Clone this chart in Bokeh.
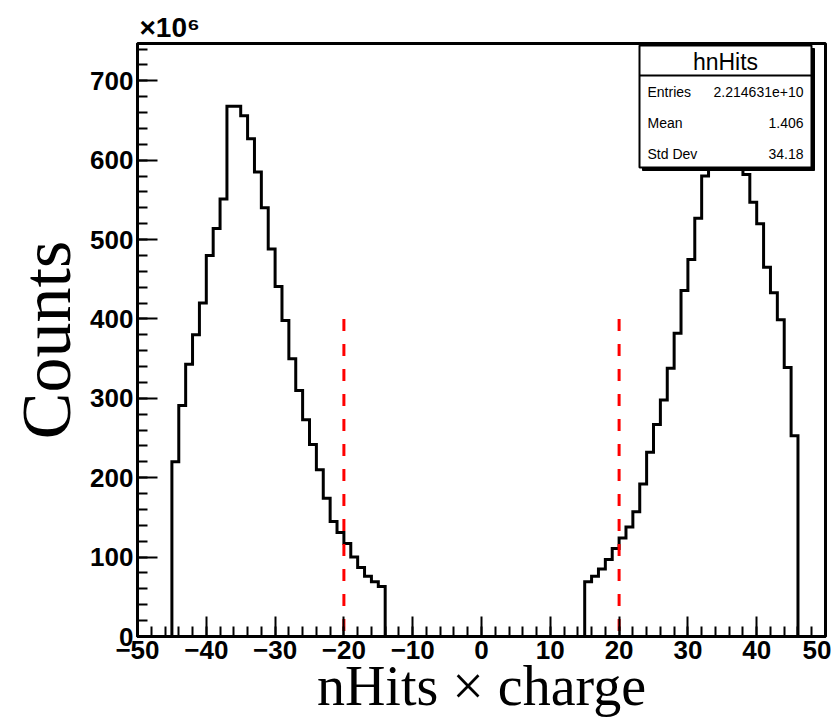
import math
from bokeh.plotting import figure
from bokeh.models import Range1d, SingleIntervalTicker, CustomJSTickFormatter, Label
from bokeh.embed import file_html
from bokeh.resources import INLINE

# ---------------- data (counts in units of 10^6) ----------------
bin_width = 1
left_bin_lows = list(range(-45, -14))
left_counts = [220, 291, 343, 380, 420, 480, 514, 551, 668, 668,
               656, 627, 585, 540, 488, 441, 398, 350, 310, 273,
               242, 210, 174, 145, 131, 117, 100, 87, 76, 69, 63]
right_bin_lows = list(range(15, 46))
right_counts = [69, 76, 85, 97, 111, 124, 138, 157, 192, 232,
                267, 298, 338, 382, 436, 475, 527, 580, 622, 660,
                695, 712, 706, 582, 547, 520, 465, 433, 399, 339, 253]
cut_values = [-20, 20]
cut_height = 400
x_range_limits = (-50, 50)
y_range_limits = (0, 747)
stats_title = "hnHits"
stats_names = ["Entries", "Mean", "Std Dev"]
stats_values = ["2.214631e+10", "1.406", "34.18"]
x_title = "nHits \u00d7 charge"
y_title = "Counts"
multiplier = "\u00d710\u2076"

# ---------------- layout ----------------
W, H = 831, 728
FL, FR, FT, FB = 137, 825, 43, 636

def px_x(px):
    return x_range_limits[0] + (px - FL) / (FR - FL) * (x_range_limits[1] - x_range_limits[0])

def px_y(py):
    return y_range_limits[0] + (FB - py) / (FB - FT) * (y_range_limits[1] - y_range_limits[0])

p = figure(width=W, height=H,
           x_range=Range1d(*x_range_limits), y_range=Range1d(*y_range_limits),
           output_backend="svg", toolbar_location=None,
           min_border_left=FL, min_border_right=W - FR,
           min_border_top=FT, min_border_bottom=H - FB)
p.background_fill_color = "white"
p.border_fill_color = "white"
p.outline_line_color = "black"
p.outline_line_width = 3
p.xgrid.visible = False
p.ygrid.visible = False

# multiplier as title
p.title.text = multiplier
p.title.align = "left"
p.title.text_font = "Liberation Sans"
p.title.text_font_style = "bold"
p.title.text_font_size = "28px"
p.title.text_color = "black"
p.title.standoff = 2
p.title.offset = 2

# ---------------- histogram step outline ----------------
all_lows = left_bin_lows + right_bin_lows
all_counts = left_counts + right_counts
lookup = dict(zip(all_lows, all_counts))
lo_min, lo_max = min(all_lows), max(all_lows)
xs = [lo_min]
ys = [0]
for b in range(lo_min, lo_max + 1):
    c = lookup.get(b, 0)
    xs += [b, b + bin_width]
    ys += [c, c]
xs.append(lo_max + bin_width)
ys.append(0)
p.line(xs, ys, line_color="black", line_width=3, line_join="miter")

# ---------------- cut lines ----------------
p.segment(x0=cut_values, y0=[cut_height] * len(cut_values),
          x1=cut_values, y1=[0] * len(cut_values),
          line_color="red", line_width=3, line_dash="12 13")

# ---------------- axes ----------------
fmt = CustomJSTickFormatter(code="return (tick < 0 ? '\u2212' : '') + Math.abs(tick).toFixed(0);")
for ax, interval in ((p.xaxis[0], 10), (p.yaxis[0], 100)):
    ax.ticker = SingleIntervalTicker(interval=interval, num_minor_ticks=5)
    ax.formatter = fmt
    ax.axis_line_width = 3
    ax.major_tick_in = 20
    ax.major_tick_out = 0
    ax.minor_tick_in = 10
    ax.minor_tick_out = 0
    ax.major_tick_line_width = 2
    ax.minor_tick_line_width = 2
    ax.major_label_text_font = "Liberation Sans"
    ax.major_label_text_font_style = "bold"
    ax.major_label_text_font_size = "26px"
    ax.major_label_text_color = "black"
    ax.axis_label_text_font = "Liberation Serif"
    ax.axis_label_text_font_style = "normal"
    ax.axis_label_text_color = "black"
p.xaxis.major_label_standoff = 4
p.yaxis.major_label_standoff = 4
p.xaxis.axis_label = x_title
p.xaxis.axis_label_text_font_size = "56px"
p.xaxis.axis_label_standoff = -7
p.yaxis.axis_label = y_title
p.yaxis.axis_label_text_font_size = "70px"
p.yaxis.axis_label_standoff = 2

# ---------------- stats box ----------------
BL, BR, BT, BB, BS = 639, 811, 45, 167, 75
SH = 3
p.quad(left=[px_x(BL + SH)], right=[px_x(BR + SH)], top=[px_y(BT + SH)], bottom=[px_y(BB + SH)],
       fill_color="black", line_color="black", line_width=1)
p.quad(left=[px_x(BL)], right=[px_x(BR)], top=[px_y(BT)], bottom=[px_y(BB)],
       fill_color="white", line_color="black", line_width=2)
p.segment(x0=[px_x(BL)], y0=[px_y(BS)], x1=[px_x(BR)], y1=[px_y(BS)],
          line_color="black", line_width=2)
p.add_layout(Label(x=px_x((BL + BR) / 2), y=px_y(61), text=stats_title,
                   text_align="center", text_baseline="middle",
                   text_font="Liberation Sans", text_font_size="23px", text_color="black"))
row_px = [91, 122, 153]
for name, val, ry in zip(stats_names, stats_values, row_px):
    p.add_layout(Label(x=px_x(647), y=px_y(ry), text=name, text_align="left",
                       text_baseline="middle", text_font="Liberation Sans",
                       text_font_size="14px", text_color="black"))
    p.add_layout(Label(x=px_x(803), y=px_y(ry), text=val, text_align="right",
                       text_baseline="middle", text_font="Liberation Sans",
                       text_font_size="14px", text_color="black"))

open("out.html", "w").write(file_html(p, INLINE))
